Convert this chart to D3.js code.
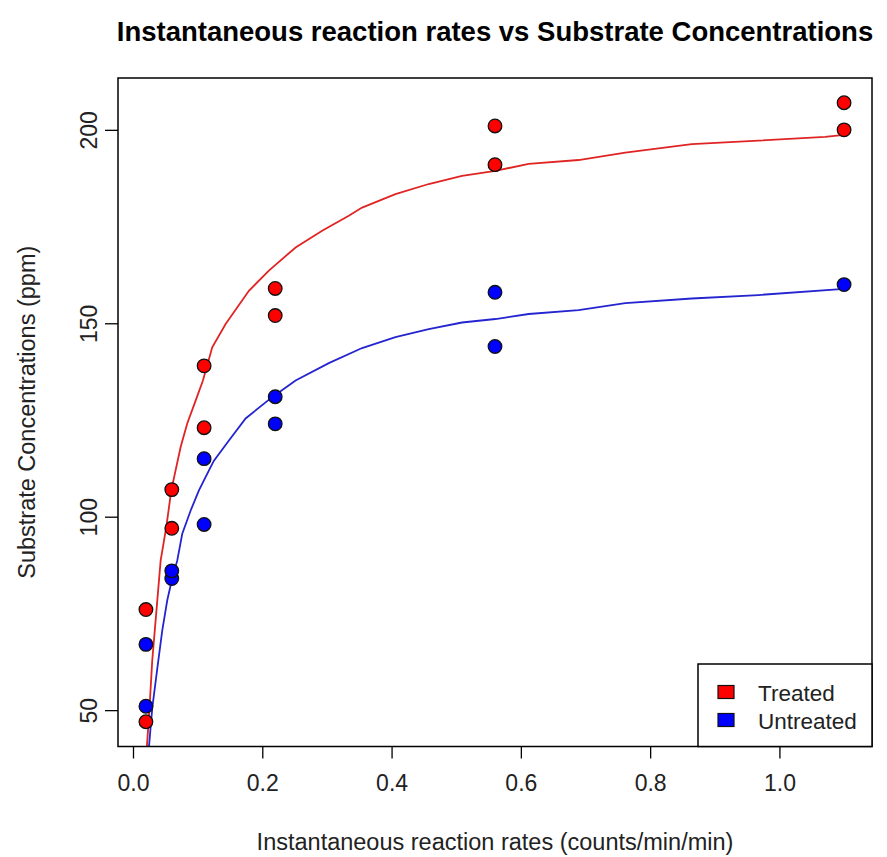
<!DOCTYPE html>
<html><head><meta charset="utf-8">
<script src="https://cdn.jsdelivr.net/npm/d3@7"></script>
<style>body{margin:0;background:#fff;} svg{display:block;font-family:"Liberation Sans",Arial,sans-serif;}</style>
</head><body>
<div id="chart"></div>
<script>
// Observed data
const treatedConc = [0.02, 0.02, 0.06, 0.06, 0.11, 0.11, 0.22, 0.22, 0.56, 0.56, 1.10, 1.10];
const treatedRate = [76, 47, 97, 107, 123, 139, 159, 152, 191, 201, 207, 200];
const untreatedConc = [0.02, 0.02, 0.06, 0.06, 0.11, 0.11, 0.22, 0.22, 0.56, 0.56, 1.10];
const untreatedRate = [67, 51, 84, 86, 98, 115, 131, 124, 144, 158, 160];

// Fitted curves
const treatedCurveX = [0.0185, 0.0216, 0.0247, 0.0298, 0.0363, 0.0428, 0.0515, 0.0592, 0.0737, 0.0839, 0.0969, 0.1082, 0.1226, 0.1433, 0.1793, 0.2102, 0.2515, 0.2926, 0.3338, 0.3544, 0.4060, 0.4575, 0.5090, 0.5606, 0.6121, 0.6893, 0.7615, 0.8645, 0.9675, 1.0706, 1.10];
const treatedCurveY = [30, 40.9, 48.2, 62.9, 75.8, 88.7, 97.3, 106.8, 118.0, 124.1, 130.0, 135.2, 143.8, 149.8, 158.4, 163.6, 169.6, 173.9, 177.8, 179.9, 183.4, 186.0, 188.1, 189.4, 191.2, 192.2, 194.1, 196.3, 197.2, 198.2, 198.7];
const untreatedCurveX = [0.0215, 0.0247, 0.0298, 0.0376, 0.0453, 0.0530, 0.0607, 0.0685, 0.0762, 0.0892, 0.1020, 0.1175, 0.1252, 0.1484, 0.1742, 0.2153, 0.2515, 0.3029, 0.3544, 0.4060, 0.4575, 0.5090, 0.5606, 0.6121, 0.6893, 0.7615, 0.8645, 0.9675, 1.10];
const untreatedCurveY = [30, 40.5, 50.5, 60.8, 70.6, 78.4, 84.1, 88.7, 95.6, 101.6, 106.8, 112.0, 114.5, 119.7, 125.4, 130.9, 135.2, 139.7, 143.6, 146.4, 148.5, 150.2, 151.1, 152.4, 153.4, 155.2, 156.4, 157.3, 158.9];

const xTicks = [0.0, 0.2, 0.4, 0.6, 0.8, 1.0];
const yTicks = [50, 100, 150, 200];
const seriesNames = ["Treated", "Untreated"];
const seriesColors = ["#ff0000", "#0000ff"];
const lineColors = ["#e02424", "#2424d0"];

const W = 887, H = 857;
const L = 118, R = 872, T = 78, B = 746.5;

const svg = d3.select("#chart").append("svg").attr("width", W).attr("height", H);

const x = d3.scaleLinear().domain([-0.0232, 1.1432]).range([L, R]);
const y = d3.scaleLinear().domain([40.6, 213.4]).range([B, T]);

svg.append("defs").append("clipPath").attr("id", "clip")
  .append("rect").attr("x", L).attr("y", T).attr("width", R - L).attr("height", B - T);

// Title
svg.append("text").attr("x", (L + R) / 2).attr("y", 41).attr("text-anchor", "middle")
  .attr("font-weight", "bold").attr("font-size", 27.5).attr("fill", "#000")
  .text("Instantaneous reaction rates vs Substrate Concentrations");

// Axes
const xAxis = d3.axisBottom(x).tickValues(xTicks).tickFormat(d3.format(".1f")).tickSize(12).tickPadding(16);
const gx = svg.append("g").attr("transform", `translate(0,${B})`).call(xAxis);
gx.select(".domain").remove();
gx.selectAll("line").attr("stroke", "#000").attr("stroke-width", 1.3);
gx.selectAll("text").attr("font-size", 23).attr("fill", "#222").attr("font-family", "Liberation Sans, Arial, sans-serif");

const yAxis = d3.axisLeft(y).tickValues(yTicks).tickFormat(d3.format("d")).tickSize(13);
const gy = svg.append("g").attr("transform", `translate(${L},0)`).call(yAxis);
gy.select(".domain").remove();
gy.selectAll("line").attr("stroke", "#000").attr("stroke-width", 1.3);
gy.selectAll("text").attr("font-size", 23).attr("fill", "#222").attr("font-family", "Liberation Sans, Arial, sans-serif")
  .attr("text-anchor", "middle").attr("x", 0).attr("dy", 0)
  .attr("transform", "translate(-21,0) rotate(-90)");

// Axis labels
svg.append("text").attr("x", (L + R) / 2).attr("y", 850).attr("text-anchor", "middle")
  .attr("font-size", 23.5).attr("fill", "#222").text("Instantaneous reaction rates (counts/min/min)");
svg.append("text").attr("transform", `translate(35,${(T + B) / 2}) rotate(-90)`).attr("text-anchor", "middle")
  .attr("font-size", 23.5).attr("fill", "#222").text("Substrate Concentrations (ppm)");

// Curves
const line = d3.line().x(d => x(d[0])).y(d => y(d[1]));
const curves = [
  d3.zip(treatedCurveX, treatedCurveY),
  d3.zip(untreatedCurveX, untreatedCurveY)
];
const plotG = svg.append("g").attr("clip-path", "url(#clip)");
curves.forEach((c, i) => {
  plotG.append("path").datum(c).attr("d", line).attr("fill", "none")
    .attr("stroke", lineColors[i]).attr("stroke-width", 1.8);
});

// Points
const pts = [
  d3.zip(treatedConc, treatedRate),
  d3.zip(untreatedConc, untreatedRate)
];
pts.forEach((p, i) => {
  plotG.selectAll(null).data(p).enter().append("circle")
    .attr("cx", d => x(d[0])).attr("cy", d => y(d[1])).attr("r", 6.8)
    .attr("fill", seriesColors[i]).attr("stroke", "#111").attr("stroke-width", 1.3);
});

// Box
svg.append("rect").attr("x", L).attr("y", T).attr("width", R - L).attr("height", B - T)
  .attr("fill", "none").attr("stroke", "#000").attr("stroke-width", 1.5);

// Legend
const lg = svg.append("g");
lg.append("rect").attr("x", 698).attr("y", 664).attr("width", R - 698).attr("height", B - 664)
  .attr("fill", "#fff").attr("stroke", "#000").attr("stroke-width", 1.5);
seriesNames.forEach((name, i) => {
  const cy = 692 + i * 28;
  lg.append("rect").attr("x", 718).attr("y", cy - 6.5).attr("width", 16).attr("height", 13)
    .attr("fill", seriesColors[i]).attr("stroke", "#111").attr("stroke-width", 1.2);
  lg.append("text").attr("x", 758).attr("y", cy + 8.5).attr("font-size", 22.5).attr("fill", "#222").text(name);
});
</script>
</body></html>
